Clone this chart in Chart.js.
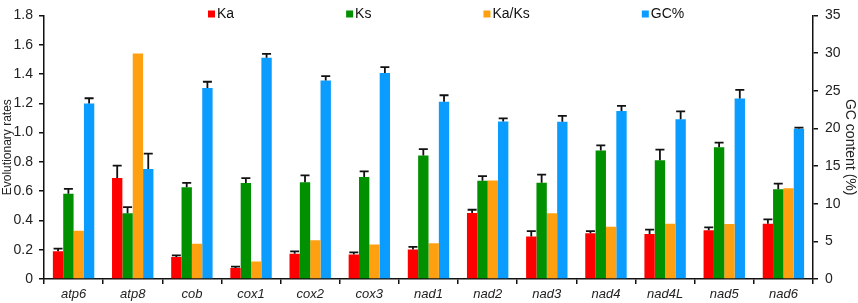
<!DOCTYPE html>
<html>
<head>
<meta charset="utf-8">
<script src="https://cdn.jsdelivr.net/npm/chart.js@4.4.1/dist/chart.umd.min.js"></script>
<style>
  html, body { margin: 0; padding: 0; background: #fff; }
  #wrap { width: 858px; height: 303px; position: relative; }
</style>
</head>
<body>
<div id="wrap"><canvas id="grafico"></canvas></div>
<script>
// genes e valores
const genes = ['atp6', 'atp8', 'cob', 'cox1', 'cox2', 'cox3', 'nad1', 'nad2', 'nad3', 'nad4', 'nad4L', 'nad5', 'nad6'];

const ka = [0.19, 0.69, 0.15, 0.075, 0.173, 0.167, 0.202, 0.451, 0.291, 0.313, 0.307, 0.333, 0.377];
const kaErr = [0.018, 0.084, 0.011, 0.009, 0.016, 0.015, 0.018, 0.022, 0.036, 0.014, 0.03, 0.02, 0.03];

const ks = [0.582, 0.449, 0.627, 0.655, 0.66, 0.697, 0.844, 0.671, 0.657, 0.877, 0.811, 0.9, 0.613];
const ksErr = [0.033, 0.042, 0.03, 0.034, 0.047, 0.038, 0.043, 0.031, 0.056, 0.036, 0.073, 0.031, 0.038];

const kaks = [0.329, 1.54, 0.24, 0.12, 0.264, 0.235, 0.244, 0.673, 0.449, 0.357, 0.377, 0.375, 0.62];

const gc = [23.3, 14.6, 25.36, 29.37, 26.35, 27.35, 23.54, 20.9, 20.87, 22.3, 21.2, 23.98, 19.96];
const gcErr = [0.7, 2.05, 0.83, 0.53, 0.6, 0.78, 0.86, 0.44, 0.78, 0.7, 1.05, 1.12, 0.15];

const leftTicks = [0, 0.2, 0.4, 0.6, 0.8, 1.0, 1.2, 1.4, 1.6, 1.8];
const rightTicks = [0, 5, 10, 15, 20, 25, 30, 35];

const fonte = "'Liberation Sans', Arial, sans-serif";

// plugin para as barras de erro (só para cima)
const errorBars = {
    id: 'errorBars',
    afterDatasetsDraw(chart) {
        const ctx = chart.ctx;
        chart.data.datasets.forEach((ds, di) => {
            if (!ds.errors) return;
            const meta = chart.getDatasetMeta(di);
            const scale = chart.scales[ds.yAxisID];
            meta.data.forEach((bar, i) => {
                const top = scale.getPixelForValue(ds.data[i] + ds.errors[i]);
                ctx.save();
                ctx.strokeStyle = '#111';
                ctx.lineWidth = 1.8;
                ctx.beginPath();
                ctx.moveTo(bar.x, bar.y);
                ctx.lineTo(bar.x, top);
                ctx.moveTo(bar.x - 4.5, top);
                ctx.lineTo(bar.x + 4.5, top);
                ctx.stroke();
                ctx.restore();
            });
        });
    }
};

// legenda desenhada dentro da área do gráfico, em cima
const topLegend = {
    id: 'topLegend',
    afterDraw(chart) {
        const ctx = chart.ctx;
        const gap = 112;
        let x = 208;
        const y = 14;
        ctx.save();
        ctx.font = '14px ' + fonte;
        ctx.textBaseline = 'middle';
        ctx.textAlign = 'left';
        chart.data.datasets.forEach((ds) => {
            ctx.fillStyle = ds.backgroundColor;
            ctx.fillRect(x, y - 3.5, 7, 7);
            ctx.fillStyle = '#111';
            ctx.fillText(ds.label, x + 9, y);
            x += 9 + ctx.measureText(ds.label).width + gap;
        });
        ctx.restore();
    }
};

const ctx = document.getElementById('grafico').getContext('2d');
new Chart(ctx, {
    type: 'bar',
    data: {
        labels: genes,
        datasets: [
            { label: 'Ka', data: ka, errors: kaErr, backgroundColor: '#ff0000', yAxisID: 'y' },
            { label: 'Ks', data: ks, errors: ksErr, backgroundColor: '#009000', yAxisID: 'y' },
            { label: 'Ka/Ks', data: kaks, backgroundColor: '#ffa010', yAxisID: 'y' },
            { label: 'GC%', data: gc, errors: gcErr, backgroundColor: '#0a9cff', yAxisID: 'y1' }
        ]
    },
    options: {
        responsive: true,
        maintainAspectRatio: false,
        animation: false,
        datasets: { bar: { categoryPercentage: 0.7, barPercentage: 1.0 } },
        layout: { padding: { top: 9, left: 0, right: 0, bottom: 0 } },
        plugins: {
            tooltip: { enabled: false },
            legend: { display: false }
        },
        scales: {
            x: {
                offset: true,
                grid: { display: true, drawOnChartArea: false, offset: true, tickLength: 5, color: '#111', lineWidth: 1.5 },
                border: { color: '#111', width: 1.5 },
                ticks: { color: '#222', padding: 3, font: { family: fonte, size: 13, style: 'italic' }, maxRotation: 0 },
                afterFit: (s) => { s.height = 24; }
            },
            y: {
                position: 'left',
                min: 0,
                max: 1.8,
                afterBuildTicks: (s) => { s.ticks = leftTicks.map(v => ({ value: v })); },
                grid: { display: true, drawOnChartArea: false, tickLength: 5, color: '#111', lineWidth: 1.5 },
                border: { color: '#111', width: 1.5 },
                ticks: {
                    color: '#222',
                    padding: 6,
                    font: { family: fonte, size: 14 },
                    callback: (v) => v === 0 ? '0' : Number(v).toFixed(1)
                },
                title: { display: true, text: 'Evolutionary rates', color: '#222', padding: { top: 0, bottom: 0 }, font: { family: fonte, size: 12 } },
                afterFit: (s) => { s.width = 44; }
            },
            y1: {
                position: 'right',
                min: 0,
                max: 35,
                afterBuildTicks: (s) => { s.ticks = rightTicks.map(v => ({ value: v })); },
                grid: { display: true, drawOnChartArea: false, tickLength: 5, color: '#111', lineWidth: 1.5 },
                border: { color: '#111', width: 1.5 },
                ticks: { color: '#222', padding: 7, font: { family: fonte, size: 14 } },
                title: { display: true, text: 'GC content (%)', color: '#222', padding: { top: 0, bottom: 0 }, font: { family: fonte, size: 14 } },
                afterFit: (s) => { s.width = 45; }
            }
        }
    },
    plugins: [errorBars, topLegend]
});
</script>
</body>
</html>
